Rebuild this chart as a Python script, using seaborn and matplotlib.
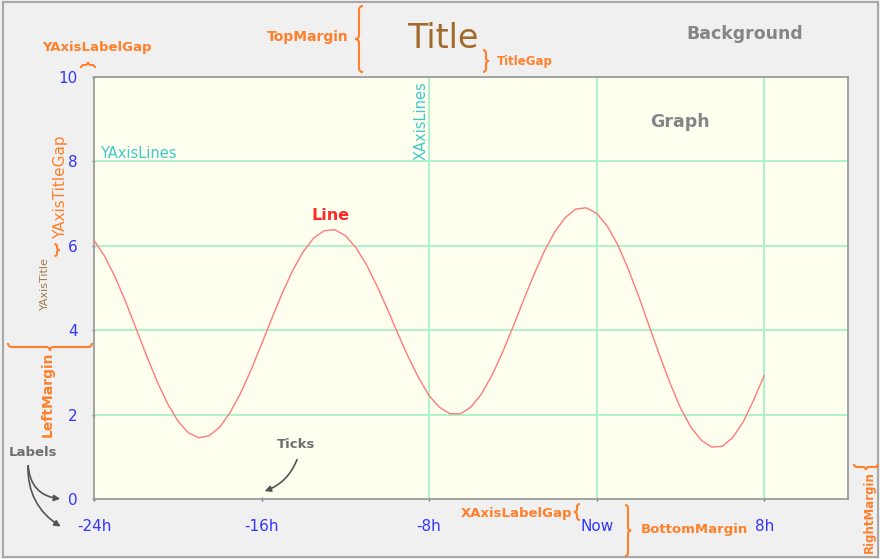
import matplotlib
matplotlib.use("Agg")
import matplotlib.pyplot as plt
import matplotlib.transforms as mtransforms
from matplotlib.path import Path
from matplotlib.patches import PathPatch, FancyArrowPatch, Rectangle
import seaborn as sns
import pandas as pd

# ---- data ----
hours = [-24, -23.5, -23, -22.5, -22, -21.5, -21, -20.5, -20, -19.5, -19, -18.5,
         -18, -17.5, -17, -16.5, -16, -15.5, -15, -14.5, -14, -13.5, -13, -12.5,
         -12, -11.5, -11, -10.5, -10, -9.5, -9, -8.5, -8, -7.5, -7, -6.5,
         -6, -5.5, -5, -4.5, -4, -3.5, -3, -2.5, -2, -1.5, -1, -0.5,
         0, 0.5, 1, 1.5, 2, 2.5, 3, 3.5, 4, 4.5, 5, 5.5, 6, 6.5, 7, 7.5, 8]
values = [6.13, 5.76, 5.27, 4.69, 4.05, 3.41, 2.80, 2.27, 1.85, 1.57, 1.45, 1.50,
          1.70, 2.05, 2.51, 3.06, 3.67, 4.29, 4.89, 5.43, 5.87, 6.19, 6.36, 6.38,
          6.24, 5.96, 5.56, 5.06, 4.51, 3.93, 3.37, 2.87, 2.45, 2.17, 2.02, 2.02,
          2.18, 2.49, 2.93, 3.47, 4.07, 4.70, 5.31, 5.87, 6.33, 6.67, 6.87, 6.90,
          6.77, 6.47, 6.03, 5.46, 4.81, 4.11, 3.41, 2.75, 2.16, 1.70, 1.39, 1.23,
          1.25, 1.46, 1.83, 2.35, 2.93]
x_ticks = [-24, -16, -8, 0, 8]
x_tick_labels = ["-24h", "-16h", "-8h", "Now", "8h"]
y_ticks = [0, 2, 4, 6, 8, 10]
x_grid = [-8, 0, 8]
y_grid = [2, 4, 6, 8]

sns.set_theme(style="white")
plt.rcParams['font.family'] = ['DejaVu Sans']

W, H = 880, 559
fig = plt.figure(figsize=(W / 100, H / 100), dpi=100, facecolor='#f0f0f0')
T = mtransforms.Affine2D().scale(1 / W, -1 / H).translate(0, 1) + fig.transFigure

ax = fig.add_axes([94 / W, 60 / H, 754 / W, 422 / H])
ax.set_facecolor('#fffff0')

df = pd.DataFrame({"hour": hours, "value": values})
for gx in x_grid:
    ax.axvline(gx, color='#a6f2c6', lw=1.3, zorder=1)
for gy in y_grid:
    ax.axhline(gy, color='#a6f2c6', lw=1.3, zorder=1)
sns.lineplot(data=df, x="hour", y="value", ax=ax, color='#ff7a7a', lw=1.0, zorder=3)

ax.set_xlim(-24, 12)
ax.set_ylim(0, 10)
ax.set_xticks(x_ticks)
ax.set_xticklabels(x_tick_labels)
ax.set_yticks(y_ticks)
ax.set_xlabel("")
ax.set_ylabel("")
ax.tick_params(axis='both', direction='inout', length=3.5, width=1, color='#6a6aa8',
               labelcolor='#3535ff', labelsize=11)
ax.tick_params(axis='x', pad=13, bottom=True)
ax.tick_params(axis='y', pad=10, left=True)
for s in ax.spines.values():
    s.set_color('#9c9c9c')
    s.set_linewidth(1.3)
    s.set_visible(True)

# outer border
fig.add_artist(Rectangle((3, 2), 875, 555, transform=T, fill=False, ec='#a8a8a8', lw=1.5))

ORANGE = '#ff7f2a'
GRAY = '#858585'
CYAN = '#3fc9c9'


def txt(x, y, s, **kw):
    kw.setdefault('ha', 'center')
    kw.setdefault('va', 'center')
    fig.text(x, y, s, transform=T, **kw)


def vbrace(x, y0, y1, side, d=3, color=ORANGE):
    """vertical curly brace; side=+1 nub points right, -1 nub left"""
    ym = (y0 + y1) / 2
    verts = [(x - side * d, y0), (x, y0), (x, y0 + d),
             (x, ym - d), (x, ym), (x + side * d, ym),
             (x, ym), (x, ym + d),
             (x, y1 - d), (x, y1), (x - side * d, y1)]
    codes = [Path.MOVETO, Path.CURVE3, Path.CURVE3,
             Path.LINETO, Path.CURVE3, Path.CURVE3,
             Path.CURVE3, Path.CURVE3,
             Path.LINETO, Path.CURVE3, Path.CURVE3]
    fig.add_artist(PathPatch(Path(verts, codes), transform=T, fill=False, ec=color, lw=1.5))


def hbrace(y, x0, x1, side, d=3, color=ORANGE):
    """horizontal curly brace; side=+1 nub points down, -1 nub up"""
    xm = (x0 + x1) / 2
    verts = [(x0, y - side * d), (x0, y), (x0 + d, y),
             (xm - d, y), (xm, y), (xm, y + side * d),
             (xm, y), (xm + d, y),
             (x1 - d, y), (x1, y), (x1, y - side * d)]
    codes = [Path.MOVETO, Path.CURVE3, Path.CURVE3,
             Path.LINETO, Path.CURVE3, Path.CURVE3,
             Path.CURVE3, Path.CURVE3,
             Path.LINETO, Path.CURVE3, Path.CURVE3]
    fig.add_artist(PathPatch(Path(verts, codes), transform=T, fill=False, ec=color, lw=1.5))


# title and top annotations
txt(443, 38, "Title", color='#a2692a', fontsize=24)
txt(349, 37, "TopMargin", ha='right', color=ORANGE, fontsize=10, fontweight='bold')
vbrace(359, 6, 72, -1, d=4)
vbrace(486, 50, 72, +1, d=3)
txt(497, 61, "TitleGap", ha='left', color=ORANGE, fontsize=8.5, fontweight='bold')
txt(745, 34, "Background", color=GRAY, fontsize=12.5, fontweight='bold')
txt(97, 48, "YAxisLabelGap", color=ORANGE, fontsize=9.5, fontweight='bold')
hbrace(65, 81, 95, -1, d=3)

# inside graph
txt(680, 122, "Graph", color=GRAY, fontsize=12.5, fontweight='bold')
txt(100, 154, "YAxisLines", ha='left', color=CYAN, fontsize=10.5)
txt(421, 121, "XAxisLines", color=CYAN, fontsize=10.5, rotation=90)
txt(331, 215, "Line", color='#ff2a2a', fontsize=11.5, fontweight='bold')

# left side
txt(61, 187, "YAxisTitleGap", color=ORANGE, fontsize=11, rotation=90)
vbrace(57, 244, 256, +1, d=2.5)
txt(45, 284, "YAxisTitle", color='#a07a45', fontsize=8, rotation=90)
hbrace(347, 8, 92, +1, d=4)
txt(48, 394, "LeftMargin", color=ORANGE, fontsize=10, fontweight='bold', rotation=90)

txt(33, 452, "Labels", color='#6f6f6f', fontsize=9.5, fontweight='bold')
for (bx, by, rad) in [(63, 499, 0.45), (63, 528, 0.3)]:
    fig.add_artist(FancyArrowPatch((28, 463), (bx, by), transform=T,
                                   connectionstyle=f"arc3,rad={rad}",
                                   arrowstyle='-|>', mutation_scale=9,
                                   color='#555555', lw=1.2))

txt(296, 444, "Ticks", color='#6f6f6f', fontsize=9.5, fontweight='bold')
fig.add_artist(FancyArrowPatch((298, 457), (262, 492), transform=T,
                               connectionstyle="arc3,rad=-0.25",
                               arrowstyle='-|>', mutation_scale=9,
                               color='#555555', lw=1.2))

# bottom / right
txt(572, 514, "XAxisLabelGap", ha='right', color=ORANGE, fontsize=9.5, fontweight='bold')
vbrace(577, 504, 520, -1, d=3)
vbrace(628, 505, 556, +1, d=3)
txt(641, 530, "BottomMargin", ha='left', color=ORANGE, fontsize=9.5, fontweight='bold')
hbrace(467, 854, 878, +1, d=3)
txt(869, 512, "RightMargin", color=ORANGE, fontsize=8.5, fontweight='bold', rotation=90)

fig.savefig("out.png", dpi=100, facecolor=fig.get_facecolor())
